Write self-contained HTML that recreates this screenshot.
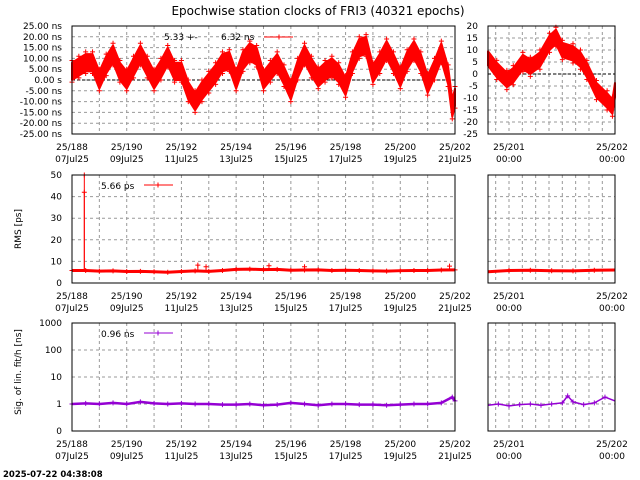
<!DOCTYPE html>
<html><head><meta charset="utf-8"><style>
html,body{margin:0;padding:0;background:#fff}
svg{display:block;font-family:"DejaVu Sans","Liberation Sans",sans-serif}
</style></head><body>
<svg id="c" width="640" height="480" viewBox="0 0 640 480" xmlns="http://www.w3.org/2000/svg">
<text x="318" y="15" font-size="12" text-anchor="middle">Epochwise station clocks of FRI3 (40321 epochs)</text>
<text x="3" y="477" font-size="8.5" font-weight="bold">2025-07-22 04:38:08</text>
</svg>
<script>
// ---- data ----
const clockDays = [188,188.25,188.5,188.75,189,189.25,189.5,189.75,190,190.25,190.5,190.75,191,191.25,191.5,191.75,192,192.25,192.5,192.75,193,193.25,193.5,193.75,194,194.25,194.5,194.75,195,195.25,195.5,195.75,196,196.25,196.5,196.75,197,197.25,197.5,197.75,198,198.25,198.5,198.75,199,199.25,199.5,199.75,200,200.25,200.5,200.75,201,201.25,201.5,201.75,201.9,202];
const clockMid = [4,6,8,8,0,7,12,4,0,6,12,6,0,5,11,4,4,-5,-10,-5,-1,3,8,9,0,9,13,11,0,4,8,2,-5,5,12,6,1,4,6,3,-3,8,15,16,3,8,14,8,1,9,14,8,-2,5,13,2,-13,-8];
const clockSpread = 4;
const zoomDays = [200.8,200.885,200.98,201.04,201.13,201.2,201.29,201.38,201.44,201.5,201.6,201.67,201.73,201.82,201.92,201.97,202.0];
const zoomClock = [6.5,1.7,-2.5,-0.5,5,3,6,13,15.5,10,8.6,6,1.7,-6.7,-11,-13.6,-6.7];
const zoomSpread = 3;
const rmsDays = [188,188.5,189,189.5,190,190.5,191,191.5,192,192.5,193,193.5,194,194.5,195,195.5,196,196.5,197,197.5,198,198.5,199,199.5,200,200.5,201,201.5,202];
const rmsVals = [5.8,5.8,5.5,5.6,5.3,5.4,5.2,5.0,5.3,5.6,5.4,5.8,6.3,6.4,6.2,6.3,5.9,6.0,6.1,5.8,5.9,5.8,5.6,5.5,5.7,5.8,5.8,6.0,6.1];
const rmsSpikes = [[188.45,42],[188.45,50],[192.6,8.3],[192.9,7.5],[195.2,8],[196.5,7.5],[201.8,7.8]];
const rmsZoomDays = [200.8,201,201.2,201.4,201.6,201.8,202];
const rmsZoomVals = [5.2,5.8,5.9,5.7,5.6,5.9,6.0];
const sigDays = [188,188.5,189,189.5,190,190.5,191,191.5,192,192.5,193,193.5,194,194.5,195,195.5,196,196.5,197,197.5,198,198.5,199,199.5,200,200.5,201,201.5,201.9,202];
const sigVals = [1.0,1.05,1.0,1.1,1.0,1.2,1.05,1.0,1.05,1.0,1.0,0.95,0.95,1.0,0.9,0.95,1.1,1.0,0.9,1.0,1.0,0.95,0.95,0.9,0.95,1.0,1.0,1.1,1.8,1.3];
const sigZoomDays = [200.8,200.9,201,201.1,201.2,201.3,201.4,201.5,201.55,201.6,201.7,201.8,201.9,202];
const sigZoomVals = [0.9,1.0,0.85,0.95,1.0,0.9,1.0,1.1,2.0,1.2,0.95,1.1,1.8,1.3];
const topTicks = ["25.00 ns","20.00 ns","15.00 ns","10.00 ns","5.00 ns","0.00  s","-5.00 ns","-10.00 ns","-15.00 ns","-20.00 ns","-25.00 ns"];
const topZoomTicks = ["20","15","10","5","0","-5","-10","-15","-20","-25"];
const rmsTicks = ["50","40","30","20","10","0"];
const sigTicks = ["1000","100","10","1","0"];
const dayLabels = [["25/188","07Jul25"],["25/190","09Jul25"],["25/192","11Jul25"],["25/194","13Jul25"],["25/196","15Jul25"],["25/198","17Jul25"],["25/200","19Jul25"],["25/202","21Jul25"]];
const zoomLabels = [["25/201","00:00"],["25/202","00:00"]];

// ---- drawing ----
const svg = document.getElementById('c');
const NS = 'http://www.w3.org/2000/svg';
function mk(tag, attrs, name, parent) {
  const e = document.createElementNS(NS, tag);
  for (const k in attrs) e.setAttribute(k, attrs[k]);
  
  
  (parent || svg).appendChild(e);
  return e;
}
function txt(x, y, s, anchor, name, size) {
  const t = mk('text', {x: x, y: y, 'font-size': size || 9, 'text-anchor': anchor || 'middle'}, name);
  t.textContent = s;
  return t;
}
const L = {x0: 72, x1: 455, d0: 188, d1: 202};
const R = {x0: 488, x1: 615, d0: 200.803, d1: 201.994};
const rows = [{y0: 26, y1: 134}, {y0: 175, y1: 283}, {y0: 323, y1: 431}];
const sx = (P, d) => P.x0 + (d - P.d0) / (P.d1 - P.d0) * (P.x1 - P.x0);
const sy = (row, v, vmin, vmax) => row.y1 - (v - vmin) / (vmax - vmin) * (row.y1 - row.y0);
const logy = (row, v) => sy(row, Math.log10(v), -1, 3);

function frame(P, row, name) {
  mk('rect', {x: P.x0, y: row.y0, width: P.x1 - P.x0, height: row.y1 - row.y0, fill: 'none', stroke: '#000', 'stroke-width': 1}, name);
}
function vgrid(P, row, days) {
  days.forEach(d => {
    const x = sx(P, d);
    if (x <= P.x0 + 0.5 || x >= P.x1 - 0.5) return;
    mk('line', {x1: x, x2: x, y1: row.y0, y2: row.y1, stroke: '#999', 'stroke-dasharray': '3,3', 'stroke-width': 1}, 'v-gridline');
  });
}
function hgrid(P, row, n, name) {
  for (let i = 1; i < n; i++) {
    const y = row.y0 + i * (row.y1 - row.y0) / n;
    mk('line', {x1: P.x0, x2: P.x1, y1: y, y2: y, stroke: '#999', 'stroke-dasharray': '3,3', 'stroke-width': 1}, name || 'h-gridline');
  }
}
function cross(x, y, col, name) {
  mk('path', {d: `M${x-2.5},${y}h5M${x},${y-2.5}v5`, stroke: col, 'stroke-width': 1, fill: 'none'}, name);
}
function band(P, row, days, mids, spread, vmin, vmax, name) {
  let up = [], dn = [];
  days.forEach((d, i) => {
    const x = Math.max(P.x0, Math.min(P.x1, sx(P, d)));
    up.push(x + ',' + Math.max(row.y0, sy(row, mids[i] + spread, vmin, vmax)));
    dn.unshift(x + ',' + Math.min(row.y1, sy(row, mids[i] - spread, vmin, vmax)));
  });
  mk('polygon', {points: up.concat(dn).join(' '), fill: '#f00', stroke: '#f00', 'stroke-width': 2, 'stroke-linejoin': 'round'}, name);
  days.forEach((d, i) => {
    const x = sx(P, d);
    if (x < P.x0 || x > P.x1) return;
    cross(x, sy(row, mids[i] + spread + 1, vmin, vmax), '#f00', 'clock-point');
    cross(x, sy(row, mids[i] - spread - 1, vmin, vmax), '#f00', 'clock-point');
  });
}
function series(P, row, days, vals, fy, col, name, w) {
  const pts = [];
  days.forEach((d, i) => {
    const x = Math.max(P.x0, Math.min(P.x1, sx(P, d)));
    pts.push(x + ',' + fy(vals[i]));
  });
  mk('polyline', {points: pts.join(' '), fill: 'none', stroke: col, 'stroke-width': w || 3, 'stroke-linejoin': 'round'}, name);
  days.forEach((d, i) => {
    const x = sx(P, d);
    if (x < P.x0 || x > P.x1) return;
    cross(x, fy(vals[i]), col, name + '-point');
  });
}

const days = [];
for (let d = 188; d <= 202; d++) days.push(d);
const zdays = [];
for (let h = 0; h <= 30; h += 3) zdays.push(200.875 + h / 24);

// grids
rows.forEach((row, ri) => {
  vgrid(L, row, days);
  vgrid(R, row, zdays);
});
hgrid(L, rows[0], 10, 'top-h-grid');
hgrid(R, rows[0], 9, 'top-zoom-h-grid');
hgrid(L, rows[1], 5); hgrid(R, rows[1], 5);
hgrid(L, rows[2], 4); hgrid(R, rows[2], 4);

// zero lines
mk('line', {x1: L.x0, x2: L.x1, y1: sy(rows[0], 0, -25, 25), y2: sy(rows[0], 0, -25, 25), stroke: '#000', 'stroke-dasharray': '3,2'}, 'zero-line');
mk('line', {x1: R.x0, x2: R.x1, y1: sy(rows[0], 0, -25, 20), y2: sy(rows[0], 0, -25, 20), stroke: '#000', 'stroke-dasharray': '3,2'}, 'zero-line-zoom');

// series
band(L, rows[0], clockDays, clockMid, clockSpread, -25, 25, 'clock-band');
band(R, rows[0], zoomDays, zoomClock, zoomSpread, -25, 20, 'clock-zoom-band');
series(L, rows[1], rmsDays, rmsVals, v => sy(rows[1], v, 0, 50), '#f00', 'rms-series', 3);
rmsSpikes.forEach(s => {
  const x = sx(L, s[0]);
  mk('line', {x1: x, x2: x, y1: sy(rows[1], 5.8, 0, 50), y2: sy(rows[1], s[1], 0, 50), stroke: '#f00', 'stroke-width': 1}, 'rms-spike');
  cross(x, sy(rows[1], s[1], 0, 50), '#f00', 'rms-spike-point');
});
series(R, rows[1], rmsZoomDays, rmsZoomVals, v => sy(rows[1], v, 0, 50), '#f00', 'rms-zoom-series', 3);
series(L, rows[2], sigDays, sigVals, v => logy(rows[2], v), '#9400d3', 'sigma-series', 2.5);
series(R, rows[2], sigZoomDays, sigZoomVals, v => logy(rows[2], v), '#9400d3', 'sigma-zoom-series', 1.5);

// frames
rows.forEach(row => { frame(L, row, 'plot-frame'); frame(R, row, 'zoom-plot-frame'); });

// y tick labels
topTicks.forEach((s, i) => txt(62, rows[0].y0 + i * 10.8 + 3, s, 'end', 'top-y-tick'));
topZoomTicks.forEach((s, i) => txt(478, rows[0].y0 + i * 12 + 3, s, 'end', 'top-zoom-y-tick'));
rmsTicks.forEach((s, i) => txt(62, rows[1].y0 + i * 21.6 + 3, s, 'end', 'rms-y-tick'));
sigTicks.forEach((s, i) => txt(62, rows[2].y0 + i * 27 + 3, s, 'end', 'sigma-y-tick'));

// x tick labels
rows.forEach(row => {
  dayLabels.forEach((lab, i) => {
    const x = sx(L, 188 + 2 * i);
    txt(x, row.y1 + 16, lab[0], 'middle', 'x-tick-day');
    txt(x, row.y1 + 28, lab[1], 'middle', 'x-tick-date');
  });
  zoomLabels.forEach((lab, i) => {
    const x = i === 0 ? sx(R, 201) : 612;
    txt(x, row.y1 + 16, lab[0], 'middle', 'zoom-x-tick-day');
    txt(x, row.y1 + 28, lab[1], 'middle', 'zoom-x-tick-time');
  });
});

// axis titles
const t1 = txt(21, 229, 'RMS [ps]', 'middle', 'rms-y-axis-title');
t1.setAttribute('transform', 'rotate(-90 21 229)');
const t2 = txt(21, 372, 'Sig. of lin. fit/h [ns]', 'middle', 'sigma-y-axis-title');
t2.setAttribute('transform', 'rotate(-90 21 372)');

// legends
txt(164, 40, '5.33 +-', 'start', 'top-legend-mean');
txt(221, 40, '6.32 ns', 'start', 'top-legend-label');
mk('line', {x1: 264, x2: 293, y1: 37, y2: 37, stroke: '#f00', 'stroke-width': 1}, 'top-legend-line');
cross(279, 37, '#f00', 'top-legend-marker');
txt(101, 189, '5.66 ps', 'start', 'rms-legend-label');
mk('line', {x1: 144, x2: 173, y1: 185, y2: 185, stroke: '#f00', 'stroke-width': 1}, 'rms-legend-line');
cross(158, 185, '#f00', 'rms-legend-marker');
txt(101, 337, '0.96 ns', 'start', 'sigma-legend-label');
mk('line', {x1: 144, x2: 173, y1: 333, y2: 333, stroke: '#9400d3', 'stroke-width': 1}, 'sigma-legend-line');
cross(158, 333, '#9400d3', 'sigma-legend-marker');
</script>
</body></html>
